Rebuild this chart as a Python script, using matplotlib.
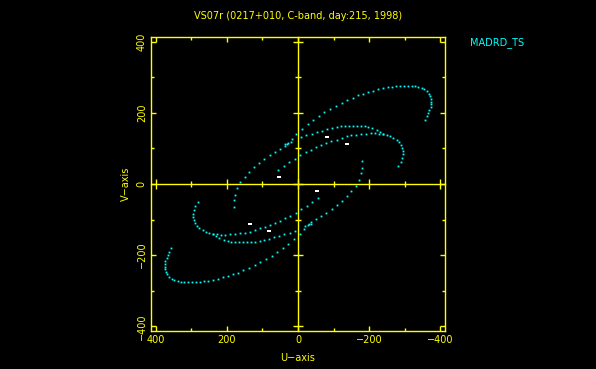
"""UV-coverage plot, PGPLOT look: black page, yellow frame, cyan tracks."""

import matplotlib

matplotlib.use("Agg")
import matplotlib.pyplot as plt  # noqa: E402
import numpy as np  # noqa: E402

YELLOW = "#FFFF00"
CYAN = "#00FFFF"
WHITE = "#FFFFFF"

TITLE = "VS07r (0217+010, C-band, day:215, 1998)"
BASELINE = "MADRD_TS"
LIM = 413.0
TICKS = [400, 200, 0, -200, -400]

# one half of each track (u, v); the conjugate half (-u, -v) is drawn as well
track_a_u = [180.2, 180.2, 177.4, 171.7, 162.3, 150.1, 138.0, 123.9, 109.8, 95.7,
             79.7, 65.6, 51.6, 37.5, 29.9, 16.8, 4.6, -11.4, -28.3, -42.3,
             -58.3, -74.3, -89.3, -106.2, -122.2, -138.1, -153.2, -168.2, -183.2, -197.3,
             -211.4, -225.4, -239.5, -251.8, -263.0, -275.2, -286.5, -297.8, -308.1, -319.4,
             -328.7, -338.1, -347.5, -355.0, -361.6, -367.2, -371.0, -373.8, -374.7, -374.7,
             -372.9, -369.1, -366.3, -361.6, -356.9]
track_a_v = [-65.8, -46.1, -30.1, -12.3, 4.6, 18.7, 32.8, 46.8, 59.1, 70.3,
             80.7, 91.0, 99.4, 107.9, 113.5, 127.6, 141.7, 155.8, 169.9, 179.3,
             192.4, 202.7, 211.2, 218.7, 228.1, 235.6, 242.2, 248.7, 253.4, 258.1,
             261.9, 265.6, 269.4, 272.2, 273.2, 275.0, 276.0, 276.0, 276.0, 275.0,
             274.1, 272.2, 269.4, 265.6, 260.0, 253.4, 246.8, 239.4, 231.8, 224.3,
             216.8, 207.4, 199.9, 190.5, 181.1]

track_b_u = [35.6, 28.1, 18.7, -7.6, -23.6, -38.6, -53.6, -68.6, -81.8, -95.9,
             -108.1, -120.3, -132.5, -143.8, -155.0, -166.3, -176.6, -187.0, -197.3, -208.5,
             -220.8, -230.2, -239.5, -249.0, -258.3, -267.7, -277.1, -283.7, -289.3, -293.0,
             -294.0, -294.0, -293.0, -288.4, -281.8]
track_b_v = [111.6, 115.4, 117.3, 131.4, 137.9, 141.7, 146.4, 150.1, 154.9, 157.7,
             160.5, 162.3, 163.3, 164.2, 164.2, 164.2, 163.3, 162.3, 160.5, 156.7,
             151.1, 146.4, 141.7, 138.9, 134.2, 129.5, 123.9, 117.3, 109.8, 101.3,
             91.9, 83.5, 73.2, 60.9, 49.7]

track_c_u = [55.3, 40.3, 25.3, 9.3, -4.8, -21.7, -35.8, -49.9, -65.8, -79.9,
             -94.0, -108.1, -122.2, -136.3, -148.5, -162.5, -176.6, -190.7, -203.9, -216.1,
             -228.3, -239.5]
track_c_v = [38.4, 49.7, 61.9, 70.3, 80.7, 89.1, 95.7, 103.2, 109.8, 115.4,
             120.1, 124.8, 129.5, 134.2, 137.0, 138.9, 140.8, 141.7, 142.6, 142.6,
             141.7, 140.8]

# white (flagged) samples
flag_u = [-81.8, -136.3, 54.4]
flag_v = [132.3, 111.6, 20.0]


def with_conjugate(u, v):
    u = np.asarray(u, float)
    v = np.asarray(v, float)
    return np.concatenate([u, -u]), np.concatenate([v, -v])


def main():
    plt.rcParams.update({"font.family": ["DejaVu Sans"], "font.size": 7})
    fig = plt.figure(figsize=(5.96, 3.69), dpi=100, facecolor="black")
    ax = fig.add_axes([0.2534, 0.1030, 0.4933, 0.7967], facecolor="black")

    for tu, tv in ((track_a_u, track_a_v), (track_b_u, track_b_v), (track_c_u, track_c_v)):
        u, v = with_conjugate(tu, tv)
        ax.plot(u, v, ls="none", marker="s", ms=1.3, mew=0, color=CYAN)
    fu, fv = with_conjugate(flag_u, flag_v)
    ax.plot(fu, fv, ls="none", marker=[(-1.6, -1), (1.6, -1), (1.6, 1), (-1.6, 1)],
            ms=3.4, mew=0, color=WHITE)

    ax.set_xlim(LIM, -LIM)
    ax.set_ylim(-LIM, LIM)
    ax.set_xticks(TICKS)
    ax.set_yticks(TICKS)
    ax.set_xticklabels([str(t) if t >= 0 else f"\u2212{-t}" for t in TICKS])
    ax.set_yticklabels([str(t) if t >= 0 else f"\u2212{-t}" for t in TICKS],
                       rotation=90, va="center")
    ax.set_xticks(np.arange(-300, 301, 200), minor=True)
    ax.set_yticks(np.arange(-300, 301, 200), minor=True)
    ax.tick_params(which="both", direction="in", color=YELLOW, labelcolor=YELLOW,
                   top=True, right=True, width=1.0, labelsize=7)
    ax.tick_params(which="major", length=3.8, pad=3)
    ax.tick_params(which="minor", length=2.3)
    for sp in ax.spines.values():
        sp.set_color(YELLOW)
        sp.set_linewidth(1.0)

    # the cross through the origin, ticked on both sides
    sx = ax.secondary_xaxis(0.5)
    sy = ax.secondary_yaxis(0.5)
    for sec, axis in ((sx, sx.xaxis), (sy, sy.yaxis)):
        axis.set_ticks(TICKS)
        axis.set_ticks(np.arange(-300, 301, 200), minor=True)
        sec.tick_params(which="both", direction="inout", color=YELLOW, width=1.0,
                        labelleft=False, labelbottom=False, labelright=False, labeltop=False)
        sec.tick_params(which="major", length=7.4)
        sec.tick_params(which="minor", length=4.0)
        for sp in sec.spines.values():
            sp.set_color(YELLOW)
            sp.set_linewidth(1.0)

    ax.set_xlabel("U\u2212axis", color=YELLOW, labelpad=6)
    ax.set_ylabel("V\u2212axis", color=YELLOW, labelpad=4)
    fig.text(0.5, 0.957, TITLE, color=YELLOW, ha="center", va="center")
    fig.text(0.834, 0.886, BASELINE, color=CYAN, ha="center", va="center")

    fig.savefig("out.png", dpi=100, facecolor="black")
    plt.close(fig)


if __name__ == "__main__":
    main()
